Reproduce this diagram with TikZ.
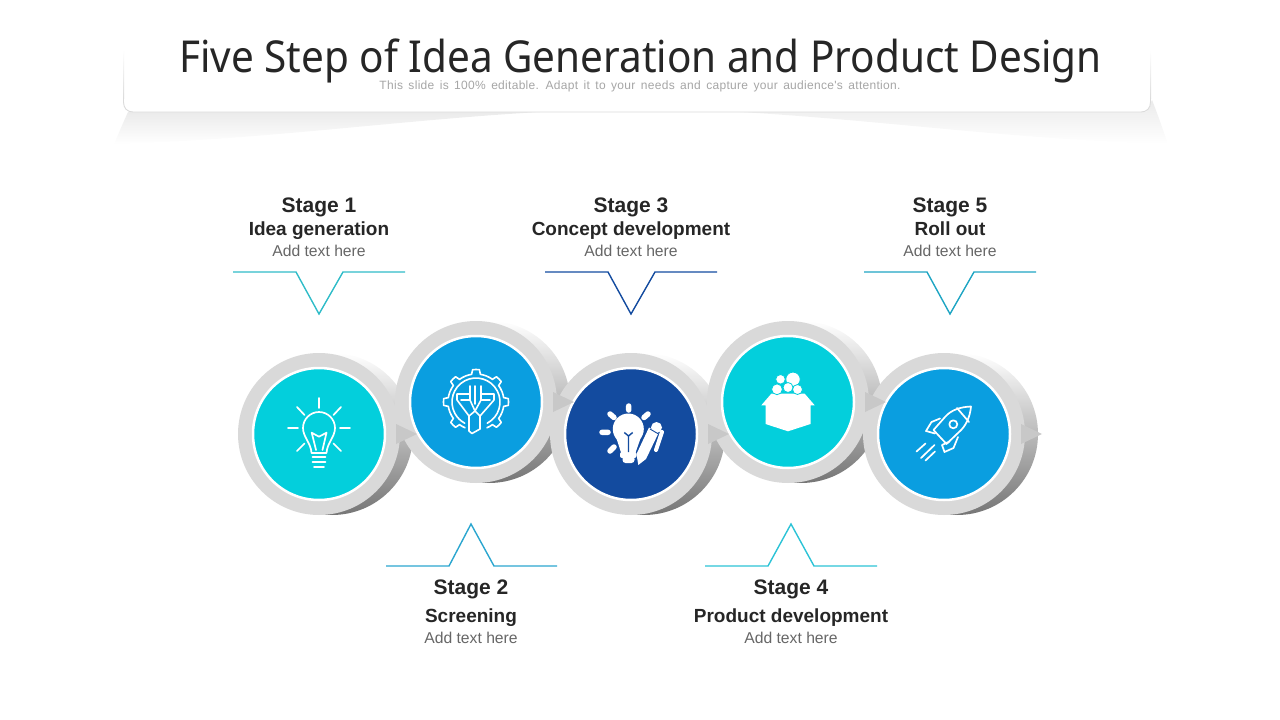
\documentclass[tikz,border=0pt]{standalone}
\usepackage{fontspec}
\setmainfont{Liberation Sans}
\newfontfamily\titlefont[FakeStretch=0.92]{Noto Sans}
\newfontfamily\subfont[LetterSpace=2.5,WordSpace=1.5]{Liberation Sans}
\definecolor{cteal}{HTML}{03CFDC}
\definecolor{cblue}{HTML}{0A9EE0}
\definecolor{cdark}{HTML}{134B9F}
\definecolor{ink}{HTML}{262626}
\definecolor{soft}{HTML}{666666}
\definecolor{ringgray}{HTML}{D9D9D9}
\definecolor{tipgray}{HTML}{C8C8C8}
\tikzset{
  px/.style={x=1pt,y=-1pt},
  stagehead/.style={anchor=base,font=\bfseries\fontsize{21}{24}\selectfont,text=ink,inner sep=0pt},
  stagename/.style={anchor=base,font=\bfseries\fontsize{19}{22}\selectfont,text=ink,inner sep=0pt},
  stagenote/.style={anchor=base,font=\fontsize{15.7}{19}\selectfont,text=soft,inner sep=0pt},
  disk/.style={circle,inner sep=0pt,minimum size=132pt,draw=white,line width=2.5pt},
  ringbase/.style={circle,inner sep=0pt,minimum size=162pt,fill=ringgray},
  extrude/.style={circle,inner sep=0pt,minimum size=162pt,top color=white,middle color=black!12,bottom color=black!54},
  tip/.style={fill=tipgray},
  callout/.style={line width=1.4pt,line join=miter},
  iconline/.style={draw=white,line width=1.7pt,line cap=round,line join=round},
  gearline/.style={draw=white,line width=1.6pt,line cap=round,line join=round},
  iconfill/.style={fill=white},
  iconray/.style={draw=white,line width=5.5pt,line cap=round},
}
\begin{document}
\begin{tikzpicture}[px]
\useasboundingbox (0,0) rectangle (1280,720);
% header shadow
\shade[top color=black!8,bottom color=white]
  (128,112) .. controls (122,125) and (118,135) .. (114,144)
  .. controls (260,140) and (400,120) .. (540,112) -- cycle;
\shade[top color=black!8,bottom color=white]
  (1146,112) -- (1152,100) .. controls (1158,115) and (1163,130) .. (1168,144)
  .. controls (1020,140) and (880,120) .. (740,112) -- cycle;
% header panel
\fill[white] (123.5,40) -- (123.5,102) .. controls (123.5,108) and (127,112) .. (133,112)
  -- (1141,112) .. controls (1147,112) and (1150.5,108) .. (1150.5,102) -- (1150.5,40) -- cycle;
\draw[black!14,line width=0.9pt] (123.5,98) -- (123.5,102) .. controls (123.5,108) and (127,112) .. (133,112)
  -- (1141,112) .. controls (1147,112) and (1150.5,108) .. (1150.5,102) -- (1150.5,98);
\shade[top color=white,bottom color=black!14] (123,50) rectangle (124,98);
\shade[top color=white,bottom color=black!14] (1150,50) rectangle (1151,98);
\node[anchor=base,inner sep=0pt,text=ink,font=\titlefont\fontsize{44}{50}\selectfont] (title) at (640.5,72) {Five Step of Idea Generation and Product Design};
\node[anchor=base,inner sep=0pt,text=black!35,font=\subfont\fontsize{12}{14}\selectfont] (subtitle) at (640,89) {This slide is 100\% editable. Adapt it to your needs and capture your audience's attention.};
% circles
\foreach \nm/\cx/\cy/\col in {c1/319/434/cteal,c2/476/402/cblue,c3/631/434/cdark,c4/788/402/cteal,c5/944/434/cblue}{
  \node[extrude] at (\cx+13,\cy) {};
  \node[ringbase] at (\cx,\cy) {};
  \node[disk,fill=\col] (\nm) at (\cx,\cy) {};
}
% arrows between circles
\foreach \nm in {c1,c2,c3,c4,c5}{
  \fill[tip] ([shift={(77,-10)}]\nm.center) -- ([shift={(98,0)}]\nm.center) -- ([shift={(77,10)}]\nm.center) -- cycle;
}
% icon 1: outline bulb
\begin{scope}[shift={(319,434)},y=1pt]
  \draw[iconline] (0,36)--(0,26) (-31,6)--(-21,6) (31,6)--(21,6)
    (-22,27)--(-14.5,19) (22,27)--(14.5,19) (-22,-17)--(-14.5,-9.5) (22,-17)--(14.5,-9.5);
  \draw[iconline] (-7.5,-19) .. controls (-8,-9) and (-16,-3) .. (-16,6)
    arc[start angle=180,end angle=0,radius=16pt]
    .. controls (16,-3) and (8,-9) .. (7.5,-19) -- cycle;
  \draw[iconline] (-7.3,1.3) -- (-3,-16) (7.5,1.3) -- (3.5,-16) (-7.3,1.3) -- (0,-2.7) -- (7.5,1.3);
  \draw[iconline] (-6.5,-23) -- (6.5,-23) (-6.5,-28) -- (6.5,-28) (-5,-33) -- (5,-33);
\end{scope}
% icon 2: gear with funnel
\begin{scope}[shift={(476,402)},y=1pt]
  \foreach \a in {-45,0,45,90,135,180,225}{
    \draw[gearline]
      (\a-22:28pt) arc[start angle=\a-22,end angle=\a-9,radius=28pt]
      -- (\a-6:32.5pt) arc[start angle=\a-6,end angle=\a+6,radius=32.5pt]
      -- (\a+9:28pt) arc[start angle=\a+9,end angle=\a+22,radius=28pt];
  }
  \draw[gearline] (-62:24pt) arc[start angle=-62,end angle=242,radius=24pt];
  \draw[gearline]
    (-6,8) -- (-19,8) -- (-19,2) -- (-7,-14) -- (-7,-29) -- (-4,-31.5) -- (4,-27) -- (4,-14) -- (18,2) -- (18,8) -- (6,8);
  \draw[gearline]
    (-6,16) -- (-6,2) -- (-15,2) (-6,2) -- (-1,-9) -- (5,2) -- (14,2) (5,2) -- (5,16)
    (-1,16) -- (-1,-2) (-7,-14) -- (-1,-9) (4,-14) -- (-1,-9);
\end{scope}
% icon 3: solid bulb with pencil
\begin{scope}[shift={(631,434)},y=1pt]
  \draw[iconray] (-2.3,28) -- (-2.3,24) (-21,20) -- (-17,16.5) (17,20) -- (13,16.5)
    (-29,1.7) -- (-23,1.7) (-21,-17) -- (-17,-13);
  \fill[iconfill] (-2.7,5) circle[radius=15.5pt];
  \fill[iconfill] (-15,-3) -- (10,-3) -- (4.3,-19.3) -- (-9.7,-19.3) -- cycle;
  \fill[iconfill,rounded corners=2pt] (-11,-18) rectangle (5.5,-24);
  \fill[iconfill,rounded corners=3pt] (-8.5,-22) rectangle (3.5,-29);
  \draw[draw=cdark,line width=1.4pt,line join=round]
    (-2.5,-18) -- (-2.5,-2) (-2.5,-2) -- (-6.7,1.5) (-2.5,-2) -- (1.7,1.5);
  \fill[iconfill] (7.3,-31) -- (5.5,-20) -- (18,6.5) -- (27.5,1) -- (15,-25) -- cycle;
  \fill[iconfill] (25.5,6.5) circle[radius=5.5pt];
  \draw[draw=white,line width=4pt,line cap=round] (31,2) -- (25,-16);
  \draw[draw=cdark,line width=0.9pt] (19,5) -- (27.5,0);
\end{scope}
% icon 4: box with bubbles
\begin{scope}[shift={(788,402)},y=1pt]
  \fill[iconfill] (-22.5,-3.3) -- (-22.5,-22) -- (0,-29.3) -- (22.5,-22) -- (22.5,-3.3) -- (26.7,-3.3) -- (16.7,8.3) -- (-16.7,8.3) -- (-26.7,-3.3) -- cycle;
  \foreach \x/\y/\r in {5/22.7/7.2,-7.5/22.7/4.8,-11/12.7/5.4,0/14.5/5,9.5/12.5/5}{
    \fill[iconfill,draw=cteal,line width=0.8pt] (\x,\y) circle[radius=\r pt];
  }
\end{scope}
% icon 5: rocket
\begin{scope}[shift={(945,435)},y=1pt]
  \draw[iconline] (26,28.5) .. controls (15,28) and (6,25) .. (0,18) -- (-11.5,5)
    -- (1.5,-9) -- (14,3) .. controls (21,9) and (25,18) .. (26,28.5) -- cycle;
  \draw[iconline] (12,27) -- (24,13);
  \draw[iconline] (8.3,10.7) circle[radius=4pt];
  \draw[iconline] (-5,16.5) -- (-13.5,13) -- (-19,4) -- (-10,1.5);
  \draw[iconline] (4.5,-6.5) -- (-3,-10) -- (-0.5,-17) -- (8.5,-13) -- (13,-2);
  \draw[iconline] (-28.5,-16.5) -- (-19.5,-8.5) (-24,-23) -- (-10.5,-10) (-19.5,-25.5) -- (-10,-16.5);
\end{scope}
% callouts
\draw[callout,color={rgb,255:red,47;green,188;blue,200}] (233,272) -- (296,272) -- (319,314) -- (343,272) -- (405,272);
\draw[callout,color=cdark] (545,272) -- (608,272) -- (631,314) -- (655,272) -- (717,272);
\draw[callout,color={rgb,255:red,30;green,165;blue,195}] (864,272) -- (927,272) -- (950,314) -- (974,272) -- (1036,272);
\draw[callout,color={rgb,255:red,43;green,166;blue,207}] (386,566) -- (449,566) -- (471,524) -- (494,566) -- (557,566);
\draw[callout,color={rgb,255:red,44;green,195;blue,214}] (705,566) -- (768,566) -- (791,524) -- (814,566) -- (877,566);
% labels
\node[stagehead] (s1h) at (319,212) {Stage 1};
\node[stagename] (s1n) at (319,235) {Idea generation};
\node[stagenote] (s1t) at (319,256) {Add text here};
\node[stagehead] (s3h) at (631,212) {Stage 3};
\node[stagename] (s3n) at (631,235) {Concept development};
\node[stagenote] (s3t) at (631,256) {Add text here};
\node[stagehead] (s5h) at (950,212) {Stage 5};
\node[stagename] (s5n) at (950,235) {Roll out};
\node[stagenote] (s5t) at (950,256) {Add text here};
\node[stagehead] (s2h) at (471,594) {Stage 2};
\node[stagename] (s2n) at (471,622) {Screening};
\node[stagenote] (s2t) at (471,643) {Add text here};
\node[stagehead] (s4h) at (791,594) {Stage 4};
\node[stagename] (s4n) at (791,622) {Product development};
\node[stagenote] (s4t) at (791,643) {Add text here};
\end{tikzpicture}
\end{document}
